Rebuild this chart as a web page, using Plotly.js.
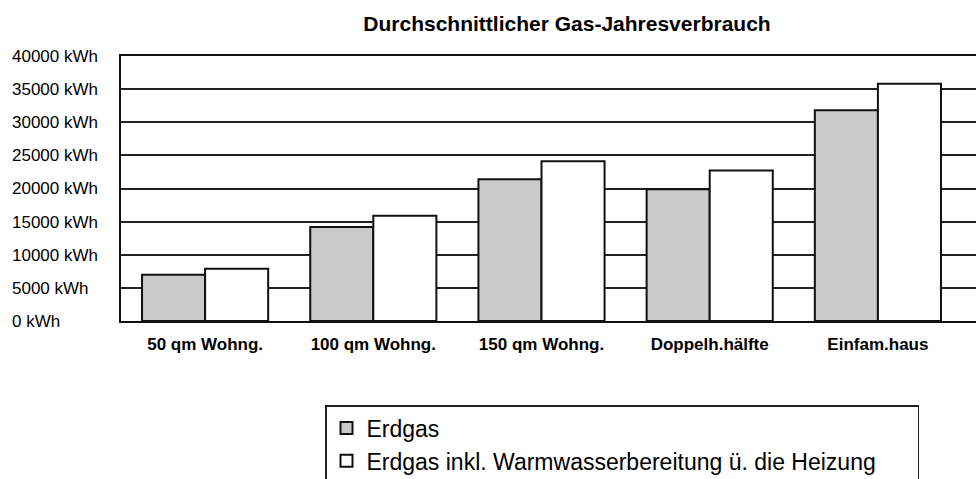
<!DOCTYPE html>
<html>
<head>
<meta charset="utf-8">
<script src="https://cdn.plot.ly/plotly-3.0.1.min.js"></script>
<style>html,body{margin:0;padding:0;background:#fff;}#chart{width:976px;height:479px;}</style>
</head>
<body>
<div id="chart"></div>
<script>
const categories = ["50 qm Wohng.", "100 qm Wohng.", "150 qm Wohng.", "Doppelh.hälfte", "Einfam.haus"];
const erdgas = [7000, 14200, 21400, 19900, 31800];
const erdgasWarmwasser = [7900, 15900, 24100, 22700, 35800];
const yTickValues = [0, 5000, 10000, 15000, 20000, 25000, 30000, 35000, 40000];
const yTickLabels = ["0 kWh", "5000 kWh", "10000 kWh", "15000 kWh", "20000 kWh", "25000 kWh", "30000 kWh", "35000 kWh", "40000 kWh"];
const seriesNames = ["Erdgas", "Erdgas inkl. Warmwasserbereitung ü. die Heizung"];

const FONT = "Liberation Sans, Arial, Helvetica, sans-serif";
const W = 976, H = 479;
const plotLeft = 121;

const traces = [
  {
    type: "bar", x: categories, y: erdgas, name: seriesNames[0],
    marker: {color: "#cacaca", line: {color: "#111", width: 2}},
    hoverinfo: "skip"
  },
  {
    type: "bar", x: categories, y: erdgasWarmwasser, name: seriesNames[1],
    marker: {color: "#ffffff", line: {color: "#111", width: 2}},
    hoverinfo: "skip"
  },
  {
    // invisible helper so the left-aligned label axis gets drawn
    type: "scatter", mode: "markers", x: categories, y: erdgas,
    xaxis: "x", yaxis: "y2", marker: {opacity: 0, size: 1},
    showlegend: false, hoverinfo: "skip"
  }
];

const layout = {
  width: W, height: H,
  margin: {l: 0, r: 0, t: 56, b: 158, autoexpand: false},
  paper_bgcolor: "#fff", plot_bgcolor: "#fff",
  font: {family: FONT, color: "#000"},
  title: {
    text: "<b>Durchschnittlicher Gas-Jahresverbrauch</b>",
    font: {family: FONT, size: 21, color: "#000"},
    x: 567 / W, xanchor: "center", xref: "container",
    y: 1 - 24 / H, yanchor: "middle", yref: "container"
  },
  barmode: "group", bargap: 0.25, bargroupgap: 0,
  xaxis: {
    domain: [plotLeft / W, 1],
    type: "category",
    range: [-0.5, -0.5 + (W - plotLeft) / 168.2],
    showgrid: false, zeroline: false,
    showline: true, linecolor: "#111", linewidth: 2, mirror: true,
    ticks: "", tickfont: {family: FONT, size: 17, color: "#000", weight: "bold"},
    ticklabelstandoff: 7,
    fixedrange: true
  },
  yaxis: {
    range: [0, 40000],
    tickvals: yTickValues,
    showticklabels: false,
    showgrid: true, gridcolor: "#222", gridwidth: 2,
    zeroline: false,
    showline: true, linecolor: "#111", linewidth: 2,
    ticks: "", fixedrange: true
  },
  yaxis2: {
    overlaying: "y", anchor: "free", position: 8 / W, side: "left",
    range: [0, 40000],
    tickvals: yTickValues, ticktext: yTickLabels,
    ticklabelposition: "inside", ticklabeloverflow: "allow",
    tickfont: {family: FONT, size: 17, color: "#000"},
    showgrid: false, zeroline: false, showline: false, ticks: "",
    fixedrange: true
  },
  showlegend: true,
  legend: {
    orientation: "h",
    xref: "container", yref: "container",
    x: 325 / W, xanchor: "left",
    y: 1 - 405 / H, yanchor: "top",
    bgcolor: "#fff", bordercolor: "#222", borderwidth: 1.5,
    font: {family: FONT, size: 23, color: "#000"},
    entrywidth: 546, entrywidthmode: "pixels",
    traceorder: "normal"
  }
};

Plotly.newPlot("chart", traces, layout, {displayModeBar: false, staticPlot: true});
</script>
</body>
</html>
